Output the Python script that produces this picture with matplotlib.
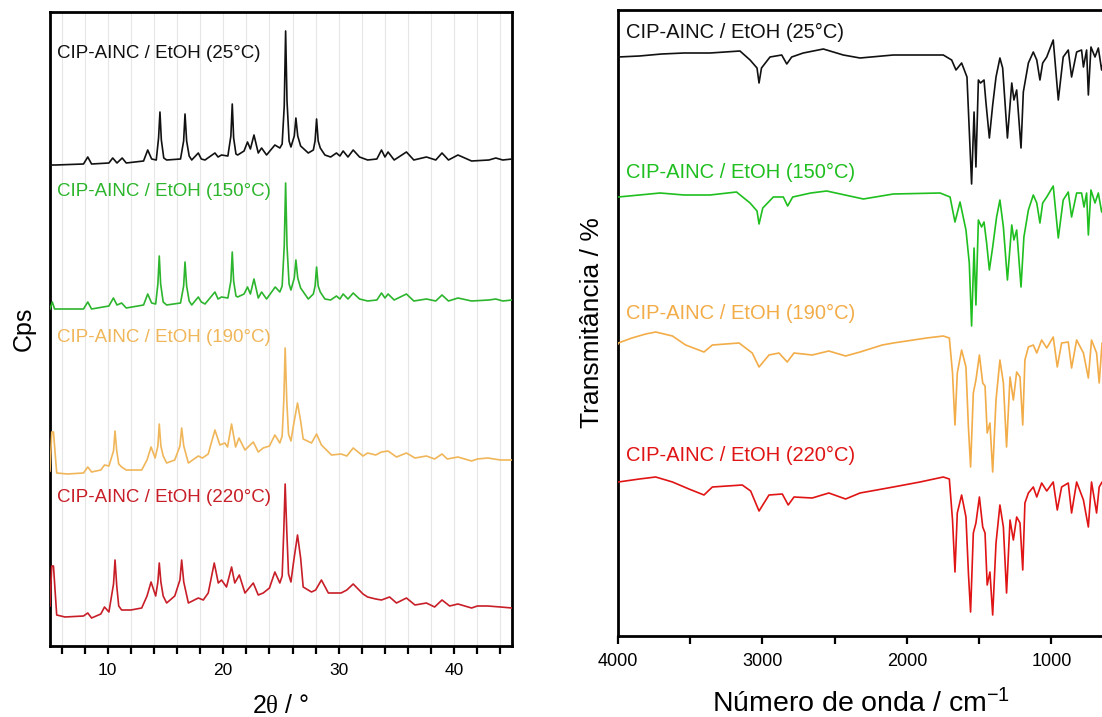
import numpy as np
import matplotlib
matplotlib.use("Agg")
import matplotlib.pyplot as plt
from matplotlib.ticker import MultipleLocator, FixedLocator

plt.rcParams['font.family'] = ['Liberation Sans', 'DejaVu Sans']
plt.rcParams['mathtext.fontset'] = 'custom'
plt.rcParams['mathtext.rm'] = 'Liberation Sans'
plt.rcParams['mathtext.sf'] = 'Liberation Serif'
plt.rcParams['mathtext.it'] = 'Liberation Sans:italic'

# ---------------- data ----------------
labels = ["CIP-AINC / EtOH (25°C)", "CIP-AINC / EtOH (150°C)",
          "CIP-AINC / EtOH (190°C)", "CIP-AINC / EtOH (220°C)"]
colors_xrd = ['#111111', '#2db52d', '#f0b65a', '#c81e28']
colors_ir = ['#111111', '#1fbf1f', '#f2ac48', '#e01414']

# XRD (2theta, stacked counts)
xrd_25 = [(5.0, 481), (5.5, 481), (7.9, 482), (8.27, 489), (8.6, 482), (10.1, 483), (10.43, 488), (10.8, 483),
          (11.25, 488), (11.6, 483), (13.1, 485), (13.46, 496), (13.8, 487), (14.2, 486), (14.4, 508), (14.52, 534),
          (14.64, 506), (14.85, 488), (15.1, 486), (16.3, 487), (16.57, 505), (16.69, 532), (16.83, 505), (17.05, 490),
          (17.27, 486), (17.84, 493), (18.1, 487), (18.42, 486), (19.28, 493), (19.55, 489), (19.85, 491), (20.4, 490),
          (20.66, 510), (20.78, 542), (20.9, 508), (21.1, 492), (21.25, 491), (21.8, 495), (22.1, 504), (22.35, 497),
          (22.66, 511), (23.03, 493), (23.32, 498), (23.75, 491), (24.47, 501), (24.9, 498), (25.1, 502), (25.28, 540),
          (25.4, 615), (25.52, 545), (25.7, 505), (25.86, 499), (26.15, 510), (26.29, 528), (26.45, 510), (26.7, 500),
          (27.36, 493), (27.8, 496), (27.95, 505), (28.08, 527), (28.22, 505), (28.4, 498), (28.8, 491), (29.3, 489),
          (29.8, 493), (30.1, 490), (30.38, 495), (30.8, 489), (31.25, 496), (31.8, 489), (32.5, 486), (33.3, 487),
          (33.7, 496), (34.0, 489), (34.27, 494), (34.8, 486), (35.86, 494), (36.5, 486), (37.59, 489), (38.4, 486),
          (38.94, 493), (39.5, 486), (40.32, 491), (41.5, 485), (43.0, 486), (43.6, 488), (44.2, 486), (45.0, 487)]
xrd_150 = [(5.0, 337), (5.2, 344), (5.4, 337), (7.9, 337), (8.27, 344), (8.6, 337), (10.1, 340), (10.49, 348),
           (10.8, 341), (11.2, 343), (11.6, 338), (13.1, 341), (13.46, 352), (13.8, 343), (14.15, 342), (14.34, 362),
           (14.46, 390), (14.58, 362), (14.8, 344), (15.1, 341), (16.3, 343), (16.57, 360), (16.69, 384), (16.83, 360),
           (17.05, 345), (17.27, 341), (17.84, 349), (18.1, 344), (18.42, 342), (19.28, 354), (19.55, 347), (19.85, 349),
           (20.4, 348), (20.66, 365), (20.78, 394), (20.9, 365), (21.1, 350), (21.25, 349), (21.8, 352), (22.1, 359),
           (22.35, 352), (22.66, 367), (23.03, 348), (23.32, 354), (23.75, 347), (24.5, 359), (24.9, 354), (25.1, 360),
           (25.28, 400), (25.4, 463), (25.52, 400), (25.7, 362), (25.86, 356), (26.15, 368), (26.29, 386), (26.45, 368),
           (26.7, 358), (27.36, 347), (27.8, 352), (27.95, 360), (28.08, 379), (28.22, 360), (28.4, 354), (28.8, 347),
           (29.3, 346), (29.8, 350), (30.1, 347), (30.38, 352), (30.8, 347), (31.25, 353), (31.8, 347), (32.5, 345),
           (33.3, 346), (33.7, 353), (34.0, 348), (34.27, 352), (34.8, 346), (35.86, 352), (36.5, 345), (37.59, 347),
           (38.4, 345), (38.94, 351), (39.5, 345), (40.32, 348), (41.5, 345), (43.0, 346), (43.6, 347), (44.2, 345),
           (45.0, 346)]
xrd_190 = [(5.0, 175), (5.15, 214), (5.3, 214), (5.58, 173), (6.5, 172), (7.9, 173), (8.27, 179), (8.6, 174),
           (9.4, 176), (9.72, 181), (10.1, 180), (10.5, 195), (10.63, 215), (10.78, 195), (10.95, 182), (11.2, 179),
           (11.6, 176), (12.94, 176), (13.4, 186), (13.75, 199), (14.1, 188), (14.34, 200), (14.46, 222), (14.6, 200),
           (14.8, 190), (15.1, 183), (15.8, 186), (16.25, 200), (16.4, 218), (16.58, 200), (16.98, 183), (17.84, 190),
           (18.2, 188), (18.7, 192), (19.28, 216), (19.71, 201), (20.14, 203), (20.37, 199), (20.72, 222), (21.07, 199),
           (21.36, 208), (21.88, 196), (22.6, 204), (23.03, 194), (23.46, 198), (24.0, 200), (24.47, 211), (24.9, 203),
           (25.1, 210), (25.24, 245), (25.36, 298), (25.5, 245), (25.65, 212), (25.86, 205), (26.1, 222), (26.43, 243),
           (26.7, 225), (26.92, 207), (27.64, 203), (28.08, 212), (28.5, 201), (29.37, 191), (30.2, 192), (30.7, 190),
           (31.25, 198), (32.1, 190), (32.5, 193), (33.2, 191), (33.7, 194), (34.27, 195), (35.0, 189), (35.86, 193),
           (36.6, 188), (37.59, 190), (38.3, 187), (38.94, 192), (39.4, 187), (40.32, 189), (41.5, 185), (42.0, 187),
           (42.9, 188), (44.0, 186), (45.0, 186)]
xrd_220 = [(5.0, 40), (5.15, 80), (5.3, 80), (5.58, 31), (6.3, 29), (7.9, 30), (8.27, 33), (8.6, 28), (9.4, 32),
           (9.72, 39), (10.1, 34), (10.5, 62), (10.63, 86), (10.78, 60), (10.95, 40), (11.2, 36), (12.0, 36),
           (12.94, 38), (13.4, 50), (13.75, 64), (14.15, 50), (14.34, 64), (14.46, 83), (14.6, 64), (14.8, 50),
           (15.1, 43), (15.8, 50), (16.25, 66), (16.4, 86), (16.58, 64), (16.98, 43), (17.84, 48), (18.27, 46),
           (18.7, 53), (19.22, 83), (19.57, 63), (19.85, 66), (20.28, 59), (20.72, 79), (21.0, 63), (21.39, 71),
           (21.88, 53), (22.6, 63), (23.03, 51), (23.46, 53), (24.0, 58), (24.47, 74), (24.9, 63), (25.1, 70),
           (25.24, 115), (25.36, 162), (25.5, 115), (25.65, 72), (25.86, 64), (26.1, 85), (26.43, 111), (26.7, 88),
           (26.92, 59), (27.64, 54), (28.0, 56), (28.5, 66), (29.1, 53), (30.2, 53), (30.7, 56), (31.25, 62),
           (32.1, 52), (32.5, 49), (33.2, 47), (33.7, 46), (34.4, 49), (35.0, 43), (35.86, 48), (36.6, 41),
           (37.59, 43), (38.3, 39), (38.94, 46), (39.6, 40), (40.32, 42), (41.5, 38), (42.0, 40), (42.9, 40),
           (44.0, 39), (45.0, 38)]

# FTIR (wavenumber cm-1, stacked transmittance)
ir_25 = [(4000, 579), (3998, 579), (3852, 580), (3698, 582), (3543, 583), (3363, 583), (3156, 585), (3086, 576),
         (3038, 568), (3024, 553), (3007, 568), (2948, 579), (2867, 581), (2832, 572), (2798, 579), (2718, 583),
         (2579, 587), (2441, 581), (2325, 578), (2095, 581), (1749, 581), (1691, 576), (1661, 566), (1622, 573),
         (1585, 559), (1553, 452), (1536, 524), (1523, 469), (1506, 556), (1491, 553), (1467, 556), (1454, 534),
         (1430, 498), (1407, 531), (1384, 559), (1357, 578), (1338, 568), (1305, 498), (1275, 553), (1260, 536),
         (1241, 546), (1211, 488), (1195, 544), (1160, 573), (1126, 584), (1102, 576), (1080, 556), (1061, 573),
         (1033, 579), (988, 596), (953, 536), (919, 579), (884, 586), (861, 559), (826, 584), (792, 586),
         (779, 569), (757, 586), (745, 541), (727, 589), (699, 579), (676, 588), (653, 566), (625, 585), (604, 580)]
ir_150 = [(4000, 439), (3998, 439), (3852, 441), (3709, 443), (3543, 441), (3363, 441), (3180, 444), (3086, 433),
          (3038, 425), (3024, 412), (2998, 428), (2925, 439), (2856, 439), (2826, 430), (2791, 439), (2666, 443),
          (2556, 445), (2302, 437), (2095, 442), (1771, 443), (1702, 439), (1668, 414), (1633, 434), (1592, 406),
          (1569, 373), (1553, 310), (1536, 388), (1523, 331), (1506, 416), (1484, 409), (1467, 414), (1449, 393),
          (1430, 366), (1407, 389), (1380, 419), (1357, 436), (1333, 409), (1305, 356), (1275, 411), (1260, 396),
          (1241, 406), (1211, 349), (1191, 399), (1160, 426), (1126, 441), (1102, 433), (1080, 413), (1061, 433),
          (1033, 439), (988, 450), (953, 398), (919, 436), (884, 444), (861, 419), (826, 443), (792, 443),
          (775, 429), (757, 443), (745, 401), (727, 446), (699, 433), (676, 443), (653, 424), (625, 440), (604, 436)]
ir_190 = [(4000, 292), (3998, 293), (3904, 298), (3808, 302), (3739, 304), (3623, 300), (3532, 291), (3405, 284),
          (3347, 291), (3162, 293), (3071, 283), (3024, 269), (2955, 281), (2886, 283), (2829, 274), (2782, 283),
          (2656, 281), (2541, 285), (2425, 280), (2325, 284), (2171, 291), (2095, 293), (1864, 298), (1749, 300),
          (1707, 298), (1685, 263), (1668, 211), (1652, 263), (1622, 286), (1592, 269), (1575, 209), (1560, 169),
          (1541, 243), (1523, 256), (1499, 281), (1476, 253), (1460, 250), (1445, 203), (1426, 213), (1407, 164),
          (1384, 236), (1357, 276), (1333, 253), (1311, 189), (1287, 259), (1264, 236), (1241, 264), (1218, 259),
          (1199, 211), (1184, 276), (1160, 289), (1126, 291), (1102, 283), (1068, 296), (1033, 288), (988, 299),
          (960, 269), (930, 293), (884, 294), (861, 268), (826, 296), (779, 283), (745, 258), (723, 296),
          (688, 283), (670, 253), (650, 293), (625, 290), (604, 288)]
ir_220 = [(4000, 154), (3998, 154), (3852, 157), (3739, 159), (3623, 154), (3509, 147), (3405, 141), (3347, 149),
          (3140, 151), (3082, 145), (3024, 125), (2955, 141), (2863, 142), (2822, 131), (2782, 139), (2656, 138),
          (2541, 143), (2425, 137), (2325, 143), (2171, 147), (2095, 149), (1910, 154), (1749, 159), (1707, 157),
          (1685, 116), (1668, 64), (1652, 123), (1622, 141), (1592, 119), (1575, 63), (1560, 24), (1541, 103),
          (1523, 113), (1499, 139), (1476, 109), (1460, 103), (1445, 51), (1426, 64), (1407, 21), (1384, 93),
          (1357, 131), (1333, 109), (1311, 43), (1287, 116), (1264, 96), (1241, 119), (1218, 113), (1199, 66),
          (1184, 133), (1160, 143), (1126, 149), (1102, 139), (1068, 153), (1033, 145), (988, 154), (960, 126),
          (930, 149), (884, 153), (861, 123), (826, 154), (779, 136), (745, 109), (723, 154), (688, 123),
          (670, 149), (650, 154), (625, 150), (604, 148)]

xrd_label_y = [593, 454, 308, 149]
ir_label_y = [604, 464, 323, 181]
xrd_ticks_major = [10, 20, 30, 40]
ir_ticks_major = [4000, 3000, 2000, 1000]

# ---------------- figure ----------------
W, H = 1102, 717
fig = plt.figure(figsize=(W / 100, H / 100), dpi=100)

def px_axes(x0, y0, x1, y1):
    return fig.add_axes([x0 / W, 1 - y1 / H, (x1 - x0) / W, (y1 - y0) / H])

def as_sorted(data):
    arr = np.array(data, dtype=float)
    return arr[np.argsort(arr[:, 0])]

# Left: XRD
ax1 = px_axes(50, 12, 512, 646)
for g in np.arange(6, 45, 2):
    ax1.axvline(g, color='#e6e6e6', lw=0.8, zorder=0)
for data, c in zip([xrd_25, xrd_150, xrd_190, xrd_220], colors_xrd):
    arr = as_sorted(data)
    ax1.plot(arr[:, 0], arr[:, 1], color=c, lw=1.2, zorder=3, solid_joinstyle='round')
for lab, yv, c in zip(labels, xrd_label_y, colors_xrd):
    ax1.text(5.6, yv, lab, color=c, fontsize=13.5, va='center', ha='left')
ax1.set_xlim(5, 45)
ax1.set_ylim(0, 634)
ax1.xaxis.set_major_locator(FixedLocator(xrd_ticks_major))
ax1.xaxis.set_minor_locator(MultipleLocator(2))
ax1.set_yticks([])
ax1.tick_params(axis='x', which='both', direction='out', length=6, width=1.6, labelsize=12.5, pad=6)
for s in ax1.spines.values():
    s.set_linewidth(2.0)
ax1.set_xlabel(r'2$\mathsf{\theta}$ / °', fontsize=18, labelpad=12)
ax1.set_ylabel('Cps', fontsize=18, labelpad=10)

# Right: FTIR (axes runs past the figure's right edge)
ax2_left, ax2_right = 618, 618 + 3600 * 0.1445
ax2 = px_axes(ax2_left, 10, ax2_right, 636)
for data, c in zip([ir_25, ir_150, ir_190, ir_220], colors_ir):
    arr = as_sorted(data)
    ax2.plot(arr[:, 0], arr[:, 1], color=c, lw=1.2, zorder=3, solid_joinstyle='round')
for lab, yv, c in zip(labels, ir_label_y, colors_ir):
    ax2.text(3945, yv, lab, color=c, fontsize=14.5, va='center', ha='left')
ax2.set_xlim(4000, 400)
ax2.set_ylim(0, 626)
ax2.xaxis.set_major_locator(FixedLocator(ir_ticks_major))
ax2.xaxis.set_minor_locator(MultipleLocator(500))
ax2.set_yticks([])
ax2.tick_params(axis='x', which='both', direction='out', length=6, width=1.6, labelsize=13, pad=6)
for s in ax2.spines.values():
    s.set_linewidth(2.0)
ax2.set_xlabel(r'Número de onda / cm$^{\mathregular{-1}}$', fontsize=20.5)
ax2.xaxis.set_label_coords((861 - ax2_left) / (ax2_right - ax2_left), -0.085)
ax2.set_ylabel('Transmitância / %', fontsize=19, labelpad=10)

fig.savefig('out.png', dpi=100)
